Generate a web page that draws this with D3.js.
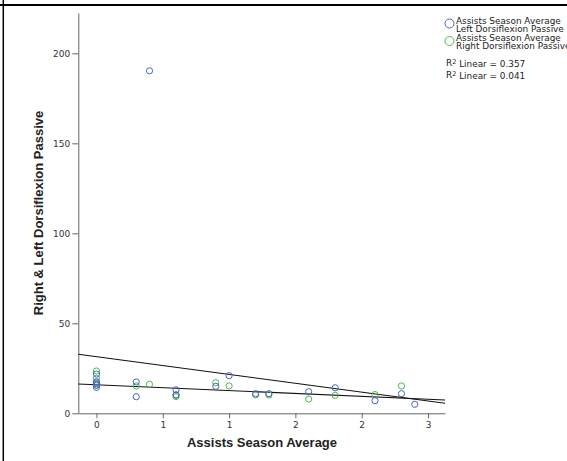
<html>
	<head>
		<title>Assists vs dorsiflexion scatter</title>
		<script src="https://d3js.org/d3.v7.min.js"></script>
		<style>
			body {
				margin: 0;
				background: #fff;
			}

			.axis path,
			.axis line {
				stroke: #666;
			}

			.axis text {
				font-family: 'DejaVu Sans', sans-serif;
				font-size: 9px;
				fill: #333;
			}

			.title {
				font-family: 'Liberation Sans', Arial, sans-serif;
				font-weight: bold;
				font-size: 13px;
				fill: #222;
			}

			.legend text {
				font-family: 'DejaVu Sans', sans-serif;
				font-size: 8.9px;
				fill: #222;
			}
		</style>
	</head>

	<body>
		<svg width="567" height="461"></svg>
	</body>

	<script>
		// Left dorsiflexion passive vs assists (blue)
		const leftX = [0, 0, 0, 0, 0, 0.3, 0.3, 0.4, 0.6, 0.6, 0.9, 1.0, 1.2, 1.3, 1.6, 1.8, 2.1, 2.3, 2.4];
		const leftY = [21.8, 17.6, 16.5, 15.7, 14.4, 17.4, 9.2, 190.3, 13, 10.3, 15, 20.9, 10.9, 10.9, 12, 14.2, 7, 10.9, 5];

		// Right dorsiflexion passive vs assists (green)
		const rightX = [0, 0, 0, 0, 0.3, 0.4, 0.6, 0.6, 0.9, 1.0, 1.2, 1.3, 1.6, 1.8, 2.1, 2.3];
		const rightY = [23.5, 19.4, 17, 15.5, 15.2, 16.1, 10, 9.3, 17, 15.2, 10.2, 10.2, 7.9, 10, 10.4, 15.2];

		// linear fits [intercept, slope]
		const fitLines = [[31.45, -9.84], [15.86, -3.22]];
		const r2Labels = ['0.357', '0.041'];

		const xTicks = [0, 0.5, 1, 1.5, 2, 2.5];
		const xTickLabels = ['0', '1', '1', '2', '2', '3'];
		const yTicks = [0, 50, 100, 150, 200];

		const legendNames = [
			['Assists Season Average', 'Left Dorsiflexion Passive'],
			['Assists Season Average', 'Right Dorsiflexion Passive']
		];
		const colors = ['#4a62c4', '#4cb84c'];

		const svg = d3.select('svg');

		// frame
		svg.append('line')
			.attr('x1', 0).attr('x2', 567)
			.attr('y1', 5).attr('y2', 5)
			.attr('stroke', '#000')
			.attr('stroke-width', 2);
		svg.append('line')
			.attr('x1', 3.3).attr('x2', 3.3)
			.attr('y1', 0).attr('y2', 461)
			.attr('stroke', '#000')
			.attr('stroke-width', 1.5);

		const x = d3.scaleLinear().domain([-0.137, 2.628]).range([78.3, 445]);
		const y = d3.scaleLinear().domain([0, 222.4]).range([413.3, 13]);

		svg.append('g')
			.attr('class', 'axis')
			.attr('transform', 'translate(0,' + y(0) + ')')
			.call(d3.axisBottom(x)
				.tickValues(xTicks)
				.tickFormat((d, i) => xTickLabels[i])
				.tickSize(5)
				.tickSizeOuter(0)
				.tickPadding(3));

		svg.append('g')
			.attr('class', 'axis')
			.attr('transform', 'translate(' + x.range()[0] + ',0)')
			.call(d3.axisLeft(y)
				.tickValues(yTicks)
				.tickSize(6)
				.tickSizeOuter(0)
				.tickPadding(2));

		svg.append('text')
			.attr('class', 'title')
			.attr('x', 262)
			.attr('y', 447)
			.attr('text-anchor', 'middle')
			.text('Assists Season Average');

		svg.append('text')
			.attr('class', 'title')
			.attr('transform', 'translate(43,213) rotate(-90)')
			.attr('text-anchor', 'middle')
			.text('Right & Left Dorsiflexion Passive');

		// fit lines
		svg.append('g')
			.selectAll('line')
			.data(fitLines)
			.join('line')
			.attr('x1', x.range()[0])
			.attr('x2', x.range()[1])
			.attr('y1', d => y(d[0] + d[1] * x.domain()[0]))
			.attr('y2', d => y(d[0] + d[1] * x.domain()[1]))
			.attr('stroke', '#111')
			.attr('stroke-width', 1.1);

		// points: green first, blue on top
		const series = [
			{ xs: rightX, ys: rightY, color: colors[1] },
			{ xs: leftX, ys: leftY, color: colors[0] }
		];

		series.forEach(s => {
			svg.append('g')
				.selectAll('circle')
				.data(s.xs.map((v, i) => [v, s.ys[i]]))
				.join('circle')
				.attr('cx', d => x(d[0]))
				.attr('cy', d => y(d[1]))
				.attr('r', 3.1)
				.attr('fill', 'none')
				.attr('stroke', s.color)
				.attr('stroke-width', 1);
		});

		// legend
		const legend = svg.append('g').attr('class', 'legend');

		legendNames.forEach((names, i) => {
			const top = 20.5 + i * 17.5;
			legend.append('circle')
				.attr('cx', 449.5)
				.attr('cy', top + 3)
				.attr('r', 4.5)
				.attr('fill', 'none')
				.attr('stroke', colors[i])
				.attr('stroke-width', 1);
			names.forEach((t, j) => {
				legend.append('text')
					.attr('x', 456)
					.attr('y', top + j * 8)
					.attr('dy', '0.35em')
					.text(t);
			});
		});

		r2Labels.forEach((r, i) => {
			const t = legend.append('text')
				.attr('x', 446)
				.attr('y', 63 + i * 12)
				.attr('dy', '0.35em');
			t.append('tspan').text('R');
			t.append('tspan')
				.attr('dy', '-0.4em')
				.attr('font-size', '6.5px')
				.text('2');
			t.append('tspan')
				.attr('dy', '0.4em')
				.text(' Linear = ' + r);
		});
	</script>

</html>
